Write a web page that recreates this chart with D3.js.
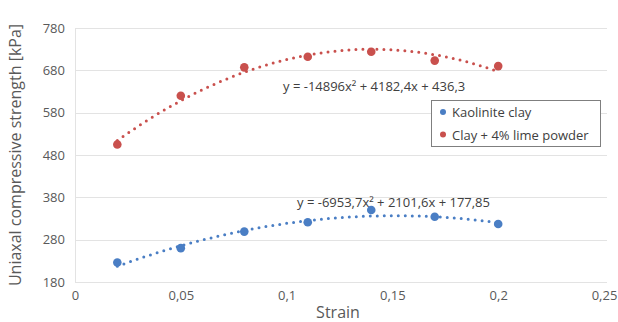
<!DOCTYPE html>
<html>
<head>
<meta charset="utf-8">
<script src="https://cdn.jsdelivr.net/npm/d3@7"></script>
<style>
  body { margin: 0; background: #fff; }
  svg text { font-family: "Open Sans", "Noto Sans", sans-serif; }
</style>
</head>
<body>
<div id="chart"></div>
<script>
"use strict";

// strain values (shared by both series)
var strain = [0.02, 0.05, 0.08, 0.11, 0.14, 0.17, 0.2];
var kaolinite = [226, 260, 299, 321, 350, 334, 317];
var clayLime = [505, 620, 687, 712, 724, 703, 690];

var seriesNames = ["Kaolinite clay", "Clay + 4% lime powder"];
var seriesColors = ["#4a7ec4", "#c9504d"];

// polynomial trendline coefficients [a, b, c] : y = a x^2 + b x + c
var kaoliniteFit = [-6953.7, 2101.6, 177.85];
var clayLimeFit = [-14896, 4182.4, 436.3];
var fitLabels = ["y = -6953,7x² + 2101,6x + 177,85", "y = -14896x² + 4182,4x + 436,3"];

var xTicks = [0, 0.05, 0.1, 0.15, 0.2, 0.25];
var yTicks = [180, 280, 380, 480, 580, 680, 780];

var width = 618, height = 322;
var margin = {top: 28, right: 14, bottom: 40, left: 75};
var graphWidth = width - margin.left - margin.right;
var graphHeight = height - margin.top - margin.bottom;

var svg = d3.select("#chart").append("svg")
    .attr("width", width)
    .attr("height", height);

var g = svg.append("g")
    .attr("transform", "translate(" + margin.left + "," + margin.top + ")");

var x = d3.scaleLinear().domain([0, 0.25]).range([0, graphWidth]);
var y = d3.scaleLinear().domain([180, 780]).range([graphHeight, 0]);

var fmt = function(d) { return String(d).replace(".", ","); };

// gridlines
g.append("g")
    .selectAll("line")
    .data(yTicks)
    .join("line")
    .attr("x1", 0)
    .attr("x2", graphWidth + 3)
    .attr("y1", function(d) { return Math.round(y(d)) + 0.5; })
    .attr("y2", function(d) { return Math.round(y(d)) + 0.5; })
    .attr("stroke", "#e3e3e3")
    .attr("stroke-width", 1);

g.append("line")
    .attr("x1", 0.5).attr("x2", 0.5)
    .attr("y1", 0).attr("y2", graphHeight)
    .attr("stroke", "#e3e3e3");

// axes
var xAxis = d3.axisBottom(x).tickValues(xTicks).tickFormat(fmt).tickSize(0).tickPadding(9);
var yAxis = d3.axisLeft(y).tickValues(yTicks).tickSize(0).tickPadding(10);

var gx = g.append("g")
    .attr("transform", "translate(0," + graphHeight + ")")
    .call(xAxis);
var gy = g.append("g").call(yAxis);

[gx, gy].forEach(function(ax) {
    ax.select(".domain").remove();
    ax.selectAll("text")
        .attr("fill", "#595959")
        .style("font-size", "13px");
});

// axis titles
svg.append("text")
    .attr("x", 338)
    .attr("y", 318)
    .attr("text-anchor", "middle")
    .attr("fill", "#595959")
    .style("font-size", "16px")
    .text("Strain");

svg.append("text")
    .attr("transform", "translate(21," + 155 + ") rotate(-90)")
    .attr("text-anchor", "middle")
    .attr("fill", "#595959")
    .style("font-size", "16px")
    .text("Uniaxal compressive strength [kPa]");

// trendlines
var series = [
    {name: seriesNames[0], color: seriesColors[0], values: kaolinite, fit: kaoliniteFit, label: fitLabels[0]},
    {name: seriesNames[1], color: seriesColors[1], values: clayLime, fit: clayLimeFit, label: fitLabels[1]}
];

var line = d3.line()
    .x(function(d) { return x(d[0]); })
    .y(function(d) { return y(d[1]); })
    .curve(d3.curveMonotoneX);

series.forEach(function(s) {
    var lo = d3.min(strain), hi = d3.max(strain);
    var pts = d3.range(0, 61).map(function(i) {
        var t = lo + (hi - lo) * i / 60;
        return [t, s.fit[0] * t * t + s.fit[1] * t + s.fit[2]];
    });
    g.append("path")
        .datum(pts)
        .attr("d", line)
        .attr("fill", "none")
        .attr("stroke", s.color)
        .attr("stroke-width", 3)
        .attr("stroke-linecap", "round")
        .attr("stroke-dasharray", "0 7");

    g.append("g")
        .selectAll("circle")
        .data(s.values)
        .join("circle")
        .attr("cx", function(d, i) { return x(strain[i]); })
        .attr("cy", function(d) { return y(d); })
        .attr("r", 4.3)
        .attr("fill", s.color);
});

// equation labels
svg.append("text")
    .attr("x", 297).attr("y", 207)
    .attr("fill", "#404040")
    .style("font-size", "13px")
    .text(fitLabels[0]);

svg.append("text")
    .attr("x", 283).attr("y", 91)
    .attr("fill", "#404040")
    .style("font-size", "13px")
    .text(fitLabels[1]);

// legend
var legend = svg.append("g").attr("transform", "translate(431,100)");
legend.append("rect")
    .attr("x", 0.5).attr("y", 0.5)
    .attr("width", 169).attr("height", 46)
    .attr("fill", "#fff")
    .attr("stroke", "#7f7f7f");

var item = legend.selectAll(".item")
    .data(series)
    .join("g")
    .attr("class", "item")
    .attr("transform", function(d, i) { return "translate(0," + (12 + i * 22.5) + ")"; });

item.append("circle")
    .attr("cx", 12).attr("cy", 0).attr("r", 3)
    .attr("fill", function(d) { return d.color; });

item.append("text")
    .attr("x", 21).attr("y", 5)
    .attr("fill", "#404040")
    .style("font-size", "13px")
    .text(function(d) { return d.name; });
</script>
</body>
</html>
